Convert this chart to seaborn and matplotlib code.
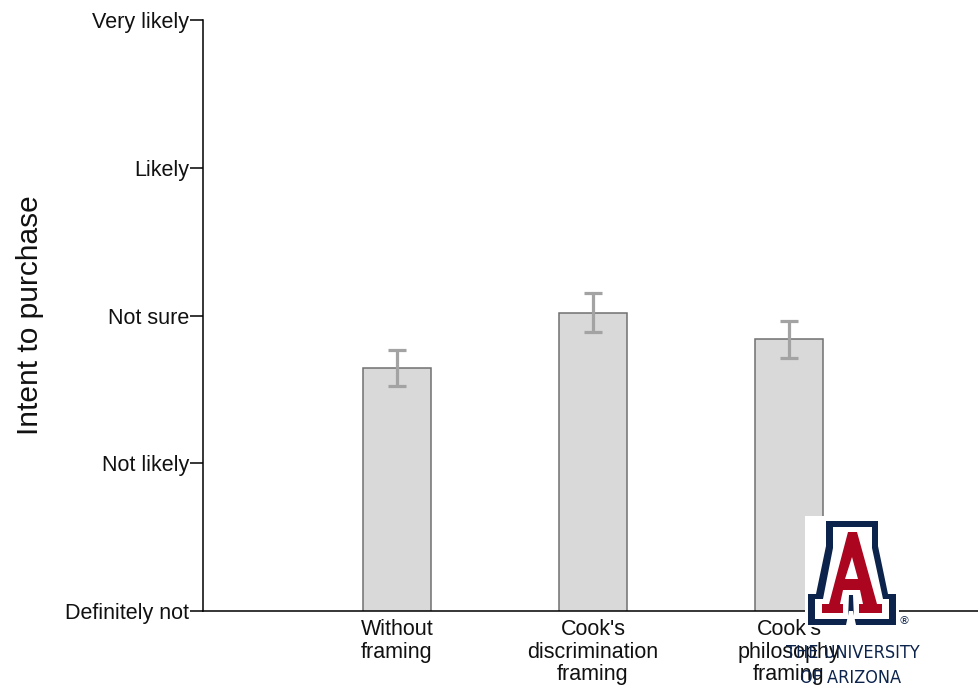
import matplotlib
matplotlib.use("Agg")
import matplotlib.pyplot as plt
from matplotlib.patches import Polygon, Rectangle, PathPatch
from matplotlib.path import Path
from matplotlib.transforms import Affine2D
from matplotlib import font_manager
import seaborn as sns
import pandas as pd

# Mean purchase intent per condition (1 = Definitely not ... 5 = Very likely)
conditions = ["Without\nframing", "Cook's\ndiscrimination\nframing", "Cook's\nphilosophy\nframing"]
means = [2.645, 3.02, 2.84]
errors = [0.12, 0.135, 0.125]
scale_values = [1, 2, 3, 4, 5]
scale_labels = ["Definitely not", "Not likely", "Not sure", "Likely", "Very likely"]

sns.set_style("white")
plt.rcParams["font.family"] = ["Liberation Sans", "DejaVu Sans"]

W, H = 979, 687
fig = plt.figure(figsize=(W / 100, H / 100), dpi=100)
ax = fig.add_axes([203 / W, 1 - 611 / H, 1 - 203 / W, (611 - 20) / H])

df = pd.DataFrame({"condition": conditions, "intent": means})
sns.barplot(data=df, x="condition", y="intent", ax=ax, color="#d9d9d9",
            saturation=1, edgecolor="#707070", linewidth=1.1, width=0.35,
            errorbar=None)
ax.errorbar(range(len(means)), means, yerr=errors, fmt="none",
            ecolor="#a3a3a3", elinewidth=2.3, capsize=6.5, capthick=2.3, zorder=3)

ax.set_ylim(1, 5)
ax.set_xlim(-0.99, 2.97)
ax.set_yticks(scale_values)
ax.set_yticklabels(scale_labels)
ax.set_xlabel("")
ax.set_ylabel("Intent to purchase", fontsize=21.5, color="#111111")
ax.yaxis.set_label_coords(-0.205, 0.5)

ax.tick_params(axis="y", left=True, length=9.4, width=1.1, pad=0.5,
               labelsize=15.5, colors="black", labelcolor="#111111")
ax.tick_params(axis="x", bottom=False, length=0, pad=6, labelsize=15.5,
               labelcolor="#111111")
for lab in ax.get_xticklabels():
    lab.set_linespacing(1.08)

for side in ("top", "right"):
    ax.spines[side].set_visible(False)
for side in ("left", "bottom"):
    ax.spines[side].set_color("black")
    ax.spines[side].set_linewidth(1.1)

# University of Arizona block-A logo, laid out in pixel units from the top-left
px = Affine2D().scale(1 / W, -1 / H).translate(0, 1) + fig.transFigure
navy, red = "#0C234B", "#AB0520"

fig.add_artist(Rectangle((805, 516), 94, 111, transform=px, facecolor="white",
                         edgecolor="none", zorder=5))
navy_outline = [(826, 521), (878, 521), (878, 546), (888, 594), (896, 594),
                (896, 625), (856, 625), (853, 611), (849, 611), (846, 625),
                (808, 625), (808, 594), (816, 594), (826, 546)]
fig.add_artist(Polygon(navy_outline, closed=True, transform=px,
                       facecolor=navy, edgecolor="none", zorder=6))
white_band = [(833, 527), (872, 527), (872, 548), (883, 599), (889, 599),
              (889, 619), (854, 619), (853, 595), (849, 595), (848, 619),
              (815, 619), (815, 599), (823, 599), (833, 548)]
fig.add_artist(Polygon(white_band, closed=True, transform=px,
                       facecolor="white", edgecolor="none", zorder=7))
letter_outer = [(848, 532), (857, 532), (877, 604), (882, 604), (882, 613),
                (859, 613), (859, 604), (863, 604), (860, 590), (843, 590),
                (840, 604), (843, 604), (843, 613), (822, 613), (822, 604),
                (829, 604), (848, 532)]
letter_counter = [(852, 557), (845, 579), (858, 579), (852, 557)]
verts = letter_outer + letter_counter
codes = ([Path.MOVETO] + [Path.LINETO] * (len(letter_outer) - 2) + [Path.CLOSEPOLY]
         + [Path.MOVETO] + [Path.LINETO] * (len(letter_counter) - 2) + [Path.CLOSEPOLY])
fig.add_artist(PathPatch(Path(verts, codes), transform=px, facecolor=red,
                         edgecolor="none", zorder=8))

narrow = font_manager.FontProperties(family="DejaVu Sans", stretch="condensed",
                                     size=13)
fig.text(899 / W, 1 - 621 / H, "®", fontsize=8, color=navy, ha="left",
         va="center", family=["DejaVu Sans"], zorder=9)
fig.text(853 / W, 1 - 653 / H, "THE UNIVERSITY", fontproperties=narrow,
         color=navy, ha="center", va="center", zorder=9)
fig.text(851 / W, 1 - 678 / H, "OF ARIZONA", fontproperties=narrow,
         color=navy, ha="center", va="center", zorder=9)

fig.savefig("out.png", dpi=100, facecolor="white")
